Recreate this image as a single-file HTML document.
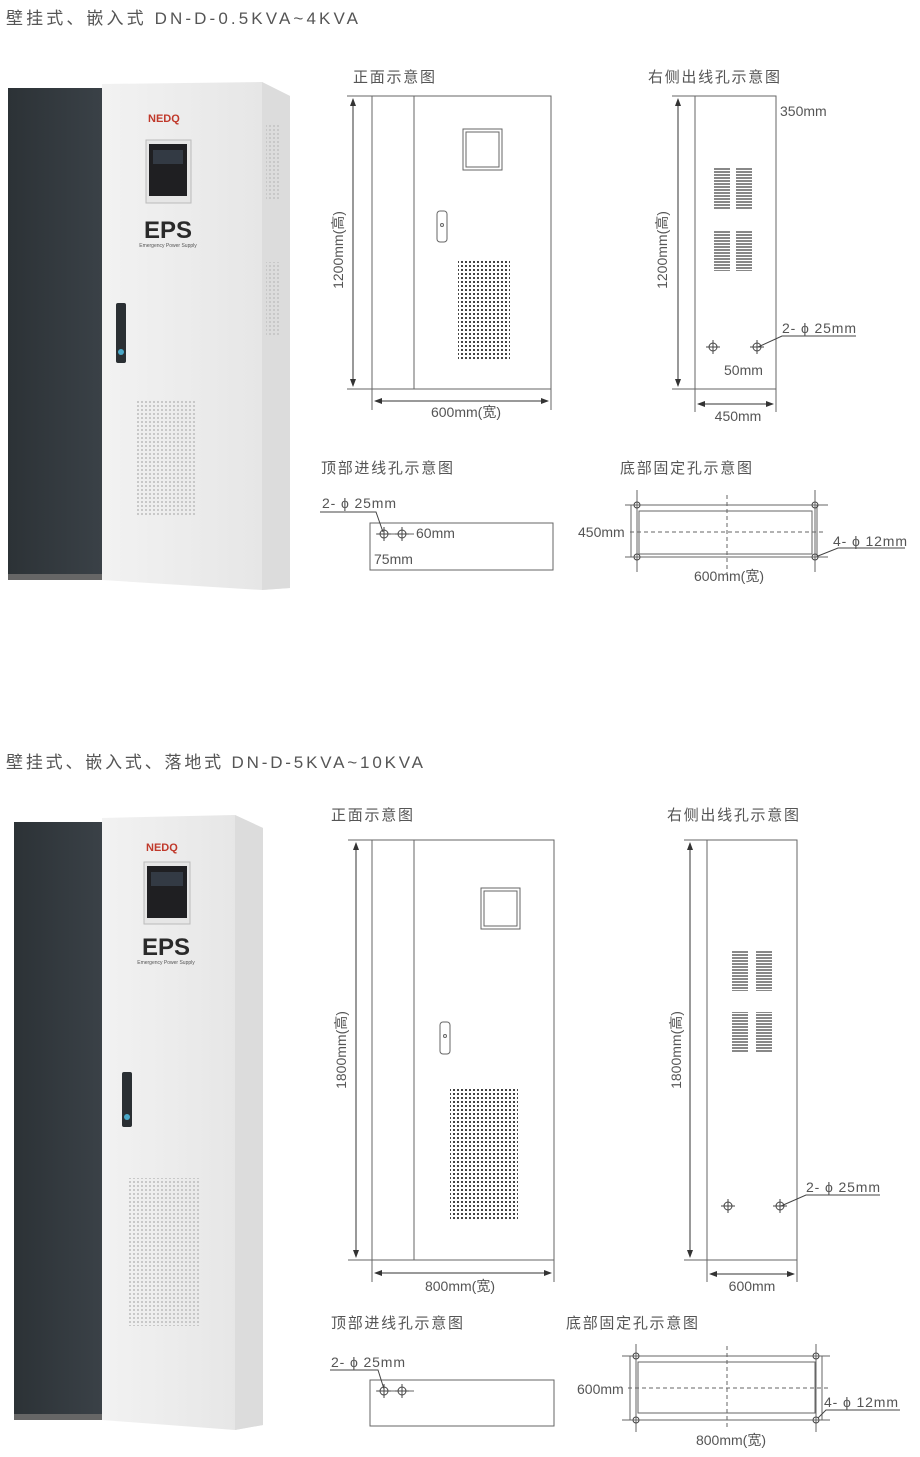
<!DOCTYPE html>
<html><head><meta charset="utf-8"><style>
body{margin:0;background:#fff}
svg{display:block}
text{font-family:"Liberation Sans","Noto Sans CJK SC",sans-serif;fill:#555}
</style></head><body>
<svg width="920" height="1457" viewBox="0 0 920 1457" xmlns="http://www.w3.org/2000/svg">
<defs>
<pattern id="dots" width="4" height="4" patternUnits="userSpaceOnUse"><rect x="1" y="1" width="2" height="2" fill="#444"/></pattern>
<pattern id="pdots" width="4" height="4" patternUnits="userSpaceOnUse"><rect x="1" y="1" width="2" height="2" fill="#c8c8c8"/></pattern>
<pattern id="vent" width="16" height="3" patternUnits="userSpaceOnUse"><rect x="0" y="0" width="16" height="2" fill="#888"/></pattern>
<linearGradient id="body" x1="0" x2="1"><stop offset="0" stop-color="#f2f2f2"/><stop offset="1" stop-color="#e4e4e4"/></linearGradient>
<linearGradient id="dark" x1="0" x2="1"><stop offset="0" stop-color="#2c3236"/><stop offset="1" stop-color="#3a4147"/></linearGradient>
<marker id="ar" markerWidth="8" markerHeight="8" refX="7" refY="4" orient="auto-start-reverse" markerUnits="userSpaceOnUse"><path d="M0,1 L8,4 L0,7 z" fill="#333"/></marker>
<g id="ch"><circle r="4" fill="none" stroke="#444" stroke-width="1"/><path d="M-7,0 H7 M0,-7 V7" stroke="#444" stroke-width="1"/></g>
</defs>
<g stroke="none">
<text x="6" y="24" font-size="17" textLength="352" lengthAdjust="spacing">壁挂式、嵌入式 DN-D-0.5KVA~4KVA</text>
<text x="6" y="768" font-size="17" textLength="417" lengthAdjust="spacing">壁挂式、嵌入式、落地式 DN-D-5KVA~10KVA</text>
</g>

<!-- photo 1 -->
<polygon points="102,84 262,82 290,96 290,588 262,590 102,580" fill="url(#body)"/>
<polygon points="262,82 290,96 290,588 262,590" fill="#dcdcdc"/>
<rect x="8" y="88" width="94" height="492" fill="url(#dark)"/>
<rect x="8" y="574" width="94" height="6" fill="#666"/>
<text x="148" y="122" font-size="11" font-weight="bold" style="fill:#c0392b">NEDQ</text>
<rect x="146" y="140" width="45" height="63" fill="#e6e6e6" stroke="#bbb"/>
<rect x="149" y="144" width="38" height="52" fill="#1f1f22"/>
<rect x="153" y="150" width="30" height="14" fill="#333a44"/>
<text x="168" y="238" font-size="24" font-weight="bold" text-anchor="middle" style="fill:#2a2a2a">EPS</text>
<text x="168" y="247" font-size="5" text-anchor="middle">Emergency Power Supply</text>
<rect x="116" y="303" width="10" height="60" rx="2" fill="#2a2f33"/>
<circle cx="121" cy="352" r="3" fill="#4aa8c8"/>
<rect x="137" y="399" width="60" height="118" fill="url(#pdots)"/>
<rect x="266" y="125" width="14" height="75" fill="url(#pdots)"/>
<rect x="266" y="262" width="14" height="75" fill="url(#pdots)"/>

<!-- photo 2 -->
<polygon points="102,818 235,815 263,828 263,1425 235,1430 102,1420" fill="url(#body)"/>
<polygon points="235,815 263,828 263,1425 235,1430" fill="#dcdcdc"/>
<rect x="14" y="822" width="88" height="598" fill="url(#dark)"/>
<rect x="14" y="1414" width="88" height="6" fill="#666"/>
<text x="146" y="851" font-size="11" font-weight="bold" style="fill:#c0392b">NEDQ</text>
<rect x="144" y="862" width="46" height="62" fill="#e6e6e6" stroke="#bbb"/>
<rect x="147" y="866" width="40" height="52" fill="#1f1f22"/>
<rect x="151" y="872" width="32" height="14" fill="#333a44"/>
<text x="166" y="955" font-size="24" font-weight="bold" text-anchor="middle" style="fill:#2a2a2a">EPS</text>
<text x="166" y="964" font-size="5" text-anchor="middle">Emergency Power Supply</text>
<rect x="122" y="1072" width="10" height="55" rx="2" fill="#2a2f33"/>
<circle cx="127" cy="1117" r="3" fill="#4aa8c8"/>
<rect x="127" y="1178" width="73" height="148" fill="url(#pdots)"/>

<g fill="none" stroke="#666" stroke-width="1">
<!-- front view 1 -->
<rect x="372" y="96" width="179" height="293"/>
<line x1="414" y1="96" x2="414" y2="389"/>
<line x1="347" y1="96" x2="372" y2="96"/><line x1="347" y1="389" x2="372" y2="389"/>
<line x1="353" y1="99" x2="353" y2="386" stroke="#333" marker-start="url(#ar)" marker-end="url(#ar)"/>
<line x1="372" y1="389" x2="372" y2="410"/><line x1="551" y1="389" x2="551" y2="410"/>
<line x1="375" y1="401" x2="548" y2="401" stroke="#333" marker-start="url(#ar)" marker-end="url(#ar)"/>
<rect x="463" y="129" width="39" height="41"/><rect x="466" y="132" width="33" height="35"/>
<rect x="437" y="211" width="10" height="31" rx="3"/>
<circle cx="442" cy="225" r="1.5"/>
<!-- side view 1 -->
<rect x="695" y="96" width="81" height="293"/>
<line x1="672" y1="96" x2="695" y2="96"/><line x1="672" y1="389" x2="695" y2="389"/>
<line x1="678" y1="99" x2="678" y2="386" stroke="#333" marker-start="url(#ar)" marker-end="url(#ar)"/>
<line x1="695" y1="389" x2="695" y2="412"/><line x1="776" y1="389" x2="776" y2="412"/>
<line x1="698" y1="404" x2="773" y2="404" stroke="#333" marker-start="url(#ar)" marker-end="url(#ar)"/>
<polyline points="758,347 782,336 856,336" stroke="#444" />
<!-- top view 1 -->
<rect x="370" y="523" width="183" height="47"/>
<polyline points="320,512 376,512 383,532" stroke="#444"/>
<line x1="376" y1="534" x2="414" y2="534"/>
<!-- bottom view 1 -->
<rect x="631" y="505" width="186" height="52"/>
<rect x="639" y="511" width="173" height="43"/>
<line x1="637" y1="490" x2="637" y2="572"/><line x1="815" y1="490" x2="815" y2="572"/>
<line x1="625" y1="505" x2="828" y2="505"/><line x1="625" y1="557" x2="828" y2="557"/>
<line x1="727" y1="495" x2="727" y2="575" stroke-dasharray="4,3"/>
<line x1="630" y1="532" x2="825" y2="532" stroke-dasharray="4,3"/>
<polyline points="818,556 838,548 905,548" stroke="#444"/>

<!-- front view 2 -->
<rect x="372" y="840" width="182" height="420"/>
<line x1="414" y1="840" x2="414" y2="1260"/>
<line x1="348" y1="840" x2="372" y2="840"/><line x1="348" y1="1260" x2="372" y2="1260"/>
<line x1="356" y1="843" x2="356" y2="1257" stroke="#333" marker-start="url(#ar)" marker-end="url(#ar)"/>
<line x1="372" y1="1260" x2="372" y2="1282"/><line x1="554" y1="1260" x2="554" y2="1282"/>
<line x1="375" y1="1273" x2="551" y2="1273" stroke="#333" marker-start="url(#ar)" marker-end="url(#ar)"/>
<rect x="481" y="888" width="39" height="41"/><rect x="484" y="891" width="33" height="35"/>
<rect x="440" y="1022" width="10" height="32" rx="3"/>
<circle cx="445" cy="1036" r="1.5"/>
<!-- side view 2 -->
<rect x="707" y="840" width="90" height="420"/>
<line x1="684" y1="840" x2="707" y2="840"/><line x1="684" y1="1260" x2="707" y2="1260"/>
<line x1="690" y1="843" x2="690" y2="1257" stroke="#333" marker-start="url(#ar)" marker-end="url(#ar)"/>
<line x1="707" y1="1260" x2="707" y2="1282"/><line x1="797" y1="1260" x2="797" y2="1282"/>
<line x1="710" y1="1274" x2="794" y2="1274" stroke="#333" marker-start="url(#ar)" marker-end="url(#ar)"/>
<polyline points="781,1206 806,1195 880,1195" stroke="#444"/>
<!-- top view 2 -->
<rect x="370" y="1380" width="184" height="46"/>
<polyline points="330,1370 378,1370 384,1389" stroke="#444"/>
<line x1="376" y1="1391" x2="414" y2="1391"/>
<!-- bottom view 2 -->
<rect x="630" y="1356" width="192" height="64"/>
<rect x="638" y="1362" width="177" height="51"/>
<line x1="636" y1="1344" x2="636" y2="1432"/><line x1="816" y1="1344" x2="816" y2="1432"/>
<line x1="622" y1="1356" x2="830" y2="1356"/><line x1="622" y1="1420" x2="830" y2="1420"/>
<line x1="727" y1="1346" x2="727" y2="1430" stroke-dasharray="4,3"/>
<line x1="628" y1="1388" x2="828" y2="1388" stroke-dasharray="4,3"/>
<polyline points="818,1418 826,1410 900,1410" stroke="#444"/>
</g>

<rect x="458" y="260" width="52" height="100" fill="url(#dots)"/>
<rect x="450" y="1089" width="68" height="131" fill="url(#dots)"/>
<rect x="714" y="168" width="16" height="41" fill="url(#vent)"/>
<rect x="736" y="168" width="16" height="41" fill="url(#vent)"/>
<rect x="714" y="230" width="16" height="41" fill="url(#vent)"/>
<rect x="736" y="230" width="16" height="41" fill="url(#vent)"/>
<rect x="732" y="950" width="16" height="41" fill="url(#vent)"/>
<rect x="756" y="950" width="16" height="41" fill="url(#vent)"/>
<rect x="732" y="1012" width="16" height="41" fill="url(#vent)"/>
<rect x="756" y="1012" width="16" height="41" fill="url(#vent)"/>

<use href="#ch" x="713" y="347"/><use href="#ch" x="757" y="347"/>
<use href="#ch" x="384" y="534"/><use href="#ch" x="402" y="534"/>
<use href="#ch" x="728" y="1206"/><use href="#ch" x="780" y="1206"/>
<use href="#ch" x="384" y="1391"/><use href="#ch" x="402" y="1391"/>
<g fill="none" stroke="#444"><circle cx="637" cy="505" r="3"/><circle cx="815" cy="505" r="3"/><circle cx="637" cy="557" r="3"/><circle cx="815" cy="557" r="3"/>
<circle cx="636" cy="1356" r="3"/><circle cx="816" cy="1356" r="3"/><circle cx="636" cy="1420" r="3"/><circle cx="816" cy="1420" r="3"/></g>

<g font-size="15">
<text x="353" y="82" textLength="82" lengthAdjust="spacing">正面示意图</text>
<text x="648" y="82" textLength="132" lengthAdjust="spacing">右侧出线孔示意图</text>
<text transform="translate(343,250) rotate(-90)" text-anchor="middle" font-size="14">1200mm(高)</text>
<text transform="translate(667,250) rotate(-90)" text-anchor="middle" font-size="14">1200mm(高)</text>
<text x="466" y="417" text-anchor="middle" font-size="14">600mm(宽)</text>
<text x="780" y="116" font-size="14">350mm</text>
<text x="782" y="333" font-size="14" textLength="74" lengthAdjust="spacing">2- ϕ 25mm</text>
<text x="724" y="375" font-size="14">50mm</text>
<text x="738" y="421" text-anchor="middle" font-size="14">450mm</text>
<text x="321" y="473" textLength="132" lengthAdjust="spacing">顶部进线孔示意图</text>
<text x="620" y="473" textLength="132" lengthAdjust="spacing">底部固定孔示意图</text>
<text x="322" y="508" font-size="14" textLength="74" lengthAdjust="spacing">2- ϕ 25mm</text>
<text x="416" y="538" font-size="14">60mm</text>
<text x="374" y="564" font-size="14">75mm</text>
<text x="578" y="537" font-size="14">450mm</text>
<text x="833" y="546" font-size="14" textLength="74" lengthAdjust="spacing">4- ϕ 12mm</text>
<text x="729" y="581" text-anchor="middle" font-size="14">600mm(宽)</text>

<text x="331" y="820" textLength="82" lengthAdjust="spacing">正面示意图</text>
<text x="667" y="820" textLength="132" lengthAdjust="spacing">右侧出线孔示意图</text>
<text transform="translate(346,1050) rotate(-90)" text-anchor="middle" font-size="14">1800mm(高)</text>
<text transform="translate(681,1050) rotate(-90)" text-anchor="middle" font-size="14">1800mm(高)</text>
<text x="460" y="1291" text-anchor="middle" font-size="14">800mm(宽)</text>
<text x="806" y="1192" font-size="14" textLength="74" lengthAdjust="spacing">2- ϕ 25mm</text>
<text x="752" y="1291" text-anchor="middle" font-size="14">600mm</text>
<text x="331" y="1328" textLength="132" lengthAdjust="spacing">顶部进线孔示意图</text>
<text x="566" y="1328" textLength="132" lengthAdjust="spacing">底部固定孔示意图</text>
<text x="331" y="1367" font-size="14" textLength="74" lengthAdjust="spacing">2- ϕ 25mm</text>
<text x="577" y="1394" font-size="14">600mm</text>
<text x="824" y="1407" font-size="14" textLength="74" lengthAdjust="spacing">4- ϕ 12mm</text>
<text x="731" y="1445" text-anchor="middle" font-size="14">800mm(宽)</text>
</g>
</svg>
</body></html>
